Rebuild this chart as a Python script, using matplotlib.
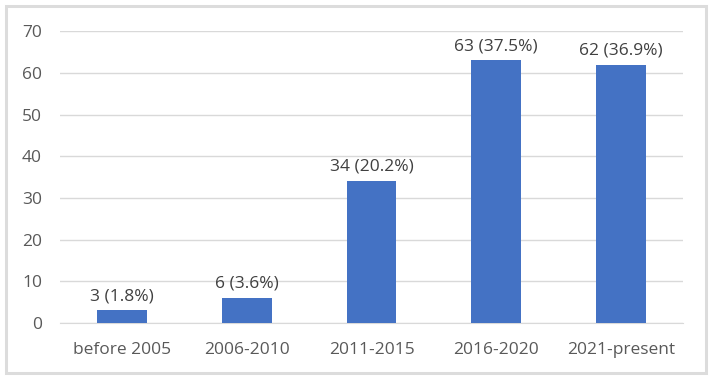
import matplotlib.pyplot as plt
from matplotlib.patches import Rectangle

categories = ['before 2005', '2006-2010', '2011-2015', '2016-2020', '2021-present']
counts = [3, 6, 34, 63, 62]
percents = [1.8, 3.6, 20.2, 37.5, 36.9]

plt.rcParams['font.family'] = ['Open Sans', 'DejaVu Sans']

fig = plt.figure(figsize=(7.12, 3.80), dpi=100)
ax = fig.add_axes([0.0843, 0.15, 0.875, 0.768])

x = range(len(categories))
bars = ax.bar(x, counts, width=0.40, color='#4472C4', zorder=3)

for b, c, p in zip(bars, counts, percents):
    ax.text(b.get_x() + b.get_width() / 2, c + 1.5, f'{c} ({p}%)',
            ha='center', va='bottom', fontsize=12.5, color='#404040')

ax.set_xlim(-0.5, len(categories) - 0.5)
ax.set_ylim(0, 70)
ax.set_yticks(range(0, 71, 10))
ax.set_xticks(list(x))
ax.set_xticklabels(categories)
ax.grid(axis='y', color='#d9d9d9', linewidth=1, zorder=0)
for s in ax.spines.values():
    s.set_visible(False)
ax.spines['bottom'].set_visible(True)
ax.spines['bottom'].set_color('#d9d9d9')
ax.tick_params(axis='both', length=0, labelsize=12.5, labelcolor='#595959')
ax.tick_params(axis='y', pad=13)
ax.tick_params(axis='x', pad=14)

fig.patches.append(Rectangle((0.008, 0.018), 0.984, 0.966, transform=fig.transFigure,
                             fill=False, edgecolor='#dcdcdc', linewidth=2.2))

fig.savefig('out.png', dpi=100)
